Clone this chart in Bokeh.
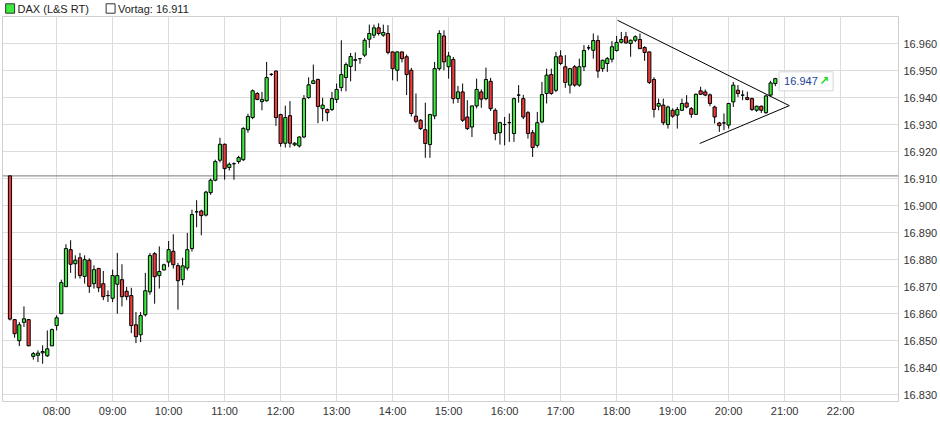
from bokeh.plotting import figure
from bokeh.layouts import column
from bokeh.models import ColumnDataSource, FixedTicker, Span
from bokeh.core.properties import value
from bokeh.embed import file_html
from bokeh.resources import INLINE

# ---------------- data (5-minute candles, index points) ----------------
series_name = "DAX (L&S RT)"
prev_label = "Vortag"
prev_close = 16911
first_bar = "07:10"
bar_minutes = 5

opens = [16911, 16857.8, 16850.0, 16856.8, 16857.8, 16844.2, 16844.6, 16845.5, 16844.4, 16848.1,
         16855.6, 16860.0, 16870.0, 16883.7, 16878.5, 16880.7, 16873.8, 16879.8, 16871.1, 16876.7,
         16871.1, 16866.7, 16865.7, 16870.9, 16872.6, 16868.3, 16866.7, 16855.9, 16852.2, 16859.6,
         16868.1, 16882.2, 16874.1, 16876.2, 16879.1, 16883.1, 16877.8, 16872.6, 16876.9, 16884.1,
         16897.7, 16898.0, 16896.5, 16904.8, 16909.4, 16916.8, 16922.7, 16914.1, 16915.5, 16916.3,
         16917.0, 16928.1, 16932.6, 16941.5, 16938.5, 16938.8, 16948.6, 16949.8, 16933.7, 16923.1,
         16933.3, 16922.5, 16922.1, 16925.4, 16940.0, 16945.2, 16946.7, 16935.9, 16935.6, 16935.6,
         16939.3, 16943.7, 16947.4, 16951.5, 16953.8, 16954.4, 16955.7, 16961.6, 16963.1, 16965.8,
         16963.1, 16963.7, 16956.9, 16950.1, 16956.9, 16955.1, 16950.1, 16933.1, 16931.6, 16928.1,
         16922.6, 16933.2, 16950.7, 16962.8, 16951.4, 16954.1, 16939.6, 16942.1, 16932.8, 16929.1,
         16936.9, 16942.1, 16939.6, 16946.0, 16935.3, 16927.0, 16930.0, 16930.7, 16926.7, 16940.9,
         16939.6, 16934.4, 16927.0, 16922.3, 16931.0, 16941.5, 16948.5, 16942.7, 16955.4, 16951.4,
         16944.6, 16951.4, 16944.6, 16951.4, 16958.4, 16957.5, 16961.1, 16950.7, 16952.6, 16954.2,
         16957.4, 16960.5, 16962.5, 16960.0, 16961.2, 16961.5, 16958.5, 16956.9, 16946.7, 16936.8,
         16937.2, 16930.0, 16935.3, 16933.5, 16935.3, 16938.0, 16935.9, 16933.8, 16942.5, 16942.1,
         16941.0, 16936.5, 16930.6, 16930.6, 16929.8, 16938.4, 16942.7, 16940.9, 16940.0, 16939.6,
         16935.3, 16936.8, 16934.4, 16940.9, 16945.2]
highs = [16911, 16858.0, 16856.9, 16862.7, 16858.0, 16845.8, 16846.4, 16848.3, 16853.8, 16854.5,
         16859.4, 16872.6, 16885.7, 16887.2, 16881.6, 16882.5, 16881.6, 16880.5, 16877.9, 16877.0,
         16875.8, 16868.6, 16876.3, 16882.5, 16878.3, 16869.9, 16869.6, 16860.6, 16860.6, 16875.1,
         16882.5, 16882.8, 16884.9, 16878.5, 16886.9, 16889.4, 16878.8, 16880.7, 16889.9, 16898.5,
         16902.0, 16898.5, 16905.5, 16910.0, 16917.0, 16925.1, 16923.0, 16916.0, 16916.0, 16918.5,
         16929.0, 16934.0, 16943.0, 16942.0, 16942.1, 16953.2, 16949.0, 16950.0, 16934.0, 16937.0,
         16938.7, 16923.5, 16925.6, 16940.9, 16947.5, 16952.2, 16947.0, 16939.9, 16935.9, 16942.1,
         16945.2, 16961.2, 16953.0, 16956.5, 16956.7, 16954.5, 16962.0, 16967.0, 16967.0, 16967.5,
         16967.0, 16966.8, 16957.0, 16957.0, 16957.0, 16955.9, 16951.0, 16941.5, 16932.0, 16938.1,
         16934.0, 16953.2, 16964.9, 16964.9, 16956.9, 16955.0, 16944.3, 16945.2, 16939.0, 16937.0,
         16947.0, 16943.0, 16951.1, 16947.3, 16936.0, 16931.0, 16932.8, 16934.1, 16940.0, 16944.6,
         16941.0, 16935.0, 16928.0, 16934.7, 16945.8, 16950.7, 16950.7, 16956.9, 16957.5, 16955.7,
         16951.0, 16952.0, 16954.4, 16959.4, 16959.4, 16963.7, 16963.0, 16954.0, 16955.0, 16960.9,
         16962.8, 16964.3, 16964.3, 16961.5, 16963.0, 16963.7, 16959.0, 16957.0, 16947.5, 16939.6,
         16939.6, 16937.0, 16936.0, 16936.5, 16939.6, 16940.9, 16936.5, 16941.5, 16944.0, 16943.0,
         16941.5, 16937.0, 16931.0, 16934.1, 16938.0, 16945.8, 16944.6, 16942.7, 16942.2, 16940.0,
         16937.0, 16937.0, 16941.0, 16946.2, 16947.3]
lows = [16857.5, 16851.1, 16848.0, 16855.1, 16848.0, 16843.0, 16842.1, 16841.5, 16844.0, 16848.0,
        16853.8, 16860.0, 16870.0, 16875.1, 16873.0, 16873.0, 16871.1, 16867.7, 16869.3, 16868.0,
        16865.0, 16864.3, 16864.3, 16860.0, 16862.7, 16865.0, 16852.8, 16849.1, 16849.5, 16859.0,
        16867.0, 16863.7, 16869.3, 16876.0, 16877.3, 16876.7, 16861.5, 16870.5, 16876.0, 16883.0,
        16892.0, 16889.0, 16896.0, 16904.0, 16909.0, 16916.0, 16909.6, 16913.0, 16909.6, 16915.5,
        16916.5, 16927.0, 16932.0, 16939.0, 16935.3, 16938.5, 16948.0, 16929.5, 16921.8, 16921.5,
        16921.5, 16922.0, 16921.5, 16925.0, 16939.5, 16945.0, 16930.5, 16931.2, 16931.2, 16935.0,
        16938.0, 16942.3, 16942.3, 16946.0, 16949.8, 16952.5, 16955.0, 16958.4, 16962.0, 16963.0,
        16962.5, 16956.0, 16946.4, 16946.0, 16953.0, 16940.9, 16933.0, 16930.5, 16928.0, 16917.7,
        16917.7, 16932.0, 16950.0, 16950.1, 16947.0, 16937.8, 16938.0, 16931.0, 16928.0, 16925.4,
        16936.0, 16936.2, 16939.0, 16935.0, 16924.2, 16922.6, 16922.3, 16923.6, 16923.6, 16938.1,
        16932.0, 16924.8, 16918.0, 16921.5, 16930.5, 16937.8, 16941.0, 16942.0, 16952.0, 16943.6,
        16941.5, 16944.0, 16944.0, 16949.8, 16957.5, 16954.4, 16947.3, 16949.5, 16949.5, 16953.0,
        16957.0, 16960.0, 16960.0, 16955.1, 16960.5, 16958.0, 16953.6, 16945.0, 16932.6, 16935.3,
        16929.8, 16928.5, 16932.5, 16928.5, 16935.0, 16936.0, 16932.5, 16933.5, 16941.0, 16940.5,
        16936.8, 16930.4, 16927.3, 16927.9, 16928.5, 16936.5, 16940.2, 16939.0, 16939.0, 16935.0,
        16934.7, 16934.3, 16934.0, 16940.2, 16944.2]
closes = [16858.0, 16852.6, 16855.9, 16858.1, 16848.1, 16845.2, 16845.4, 16846.0, 16847.0, 16854.1,
          16858.5, 16871.5, 16884.1, 16878.3, 16879.8, 16874.1, 16880.0, 16870.1, 16876.3, 16869.6,
          16866.3, 16866.7, 16874.1, 16874.1, 16866.3, 16866.3, 16855.6, 16851.5, 16859.3, 16868.5,
          16881.5, 16873.7, 16875.6, 16878.1, 16883.7, 16878.1, 16872.2, 16877.7, 16883.7, 16896.7,
          16897.7, 16896.3, 16905.0, 16909.4, 16916.3, 16922.7, 16913.7, 16915.3, 16915.5, 16917.8,
          16928.6, 16933.0, 16942.5, 16939.3, 16939.3, 16947.4, 16948.6, 16932.6, 16923.0, 16932.6,
          16923.1, 16923.1, 16925.4, 16939.6, 16944.7, 16946.2, 16936.7, 16937.2, 16934.4, 16939.6,
          16943.0, 16948.5, 16952.2, 16955.2, 16954.0, 16954.4, 16961.2, 16963.7, 16965.8, 16963.7,
          16964.1, 16956.7, 16950.7, 16956.9, 16954.4, 16948.5, 16934.1, 16931.2, 16928.5, 16923.0,
          16933.7, 16950.7, 16963.7, 16953.2, 16955.4, 16939.6, 16942.1, 16931.6, 16928.5, 16936.9,
          16943.0, 16939.4, 16946.7, 16935.9, 16926.7, 16930.7, 16930.0, 16930.7, 16939.6, 16940.9,
          16932.8, 16926.7, 16921.5, 16930.7, 16941.1, 16948.3, 16941.5, 16955.1, 16952.6, 16945.6,
          16950.7, 16944.6, 16951.4, 16957.4, 16958.4, 16961.1, 16949.8, 16953.8, 16954.4, 16958.8,
          16960.4, 16961.5, 16960.2, 16961.2, 16962.5, 16958.1, 16956.7, 16945.6, 16935.6, 16937.8,
          16930.7, 16936.5, 16933.1, 16935.6, 16937.8, 16936.5, 16933.8, 16941.2, 16941.2, 16940.9,
          16937.8, 16932.8, 16929.6, 16930.6, 16937.8, 16944.6, 16941.5, 16940.9, 16939.3, 16935.6,
          16936.8, 16935.3, 16940.6, 16945.4, 16947.0]

x_tick_labels = ["08:00", "09:00", "10:00", "11:00", "12:00", "13:00", "14:00", "15:00",
                 "16:00", "17:00", "18:00", "19:00", "20:00", "21:00", "22:00"]
y_tick_values = [16830, 16840, 16850, 16860, 16870, 16880, 16890, 16900,
                 16910, 16920, 16930, 16940, 16950, 16960]

trend_upper_time = ["18:01", "21:05"]
trend_upper_price = [16968.6, 16937.0]
trend_lower_time = ["19:29", "21:05"]
trend_lower_price = [16923.0, 16937.0]

# ---------------- styling ----------------
GREEN = "#3ceb3c"
RED = "#ef3b3b"
GRID = "#dcdcdc"
TXT = "#333333"
FONT = "Liberation Sans"
W = 940
HEADER_H = 15
MAIN_H = 420


def to_min(s):
    h, m = s.split(":")
    return int(h) * 60 + int(m)


start = to_min(first_bar)
times = [start + i * bar_minutes for i in range(len(opens))]
tops = [max(o, c) for o, c in zip(opens, closes)]
bottoms = [min(o, c) for o, c in zip(opens, closes)]
colors = [GREEN if c > o else (RED if c < o else "black") for o, c in zip(opens, closes)]

src = ColumnDataSource(dict(t=times, o=opens, h=highs, l=lows, c=closes,
                            top=tops, bottom=bottoms, color=colors))

# ---------------- header (legend row) ----------------
hdr = figure(width=W, height=HEADER_H, x_range=(0, W), y_range=(HEADER_H, 0),
             output_backend="svg", toolbar_location=None,
             min_border_left=0, min_border_right=0, min_border_top=0, min_border_bottom=0)
hdr.axis.visible = False
hdr.grid.visible = False
hdr.outline_line_color = None
hdr.background_fill_color = "white"
hdr.border_fill_color = "white"

legend_entries = [series_name, f"{prev_label}: {prev_close / 1000:.3f}"]
legend_fills = [GREEN, "white"]
legend_x = [3.3, 108.7]
hdr.rect(x=[lx + 4.7 for lx in legend_x], y=[8] * 2, width=9.4, height=9.4,
         fill_color=legend_fills, line_color="#333333", line_width=1)
hdr.text(x=[lx + 12.5 for lx in legend_x], y=[8.3] * 2, text=legend_entries,
         text_align="left", text_baseline="middle", text_font=value(FONT),
         text_font_size="11px", text_color="#222222")

# ---------------- main chart ----------------
p = figure(width=W, height=MAIN_H, x_range=(422, 1382), y_range=(16827.5, 16970),
           y_axis_location="right", output_backend="svg", toolbar_location=None,
           min_border_left=2, min_border_right=42, min_border_top=1, min_border_bottom=34)
p.background_fill_color = "white"
p.border_fill_color = "white"
p.outline_line_color = "#cfcfcf"
p.outline_line_width = 1

x_tick_values = [to_min(s) for s in x_tick_labels]
p.xaxis.ticker = FixedTicker(ticks=x_tick_values)
p.xaxis.major_label_overrides = {v: s for v, s in zip(x_tick_values, x_tick_labels)}
p.yaxis.ticker = FixedTicker(ticks=y_tick_values)
p.yaxis.major_label_overrides = {v: f"{v / 1000:.3f}" for v in y_tick_values}

for ax in (p.xaxis[0], p.yaxis[0]):
    ax.axis_line_color = None
    ax.major_tick_line_color = None
    ax.minor_tick_line_color = None
    ax.major_tick_out = 0
    ax.major_tick_in = 0
    ax.major_label_text_font = FONT
    ax.major_label_text_font_size = "11px"
    ax.major_label_text_color = TXT
p.xaxis.major_label_standoff = 3
p.yaxis.major_label_standoff = 5

p.xgrid.grid_line_color = GRID
p.ygrid.grid_line_color = GRID

# previous close line
p.add_layout(Span(location=prev_close, dimension="width", line_color="#777777",
                  line_width=1, level="underlay"))

# candles
p.segment(x0="t", y0="l", x1="t", y1="h", source=src, line_color="black", line_width=1)
p.vbar(x="t", width=3.4, top="top", bottom="bottom", source=src,
       fill_color="color", line_color="black", line_width=1)

# triangle trend lines
p.line([to_min(s) for s in trend_upper_time], trend_upper_price, line_color="black", line_width=1)
p.line([to_min(s) for s in trend_lower_time], trend_lower_price, line_color="black", line_width=1)

# last price box
last_t = times[-1]
last_c = closes[-1]
bx = last_t + 33
by = last_c - 1.0
p.rect(x=[bx], y=[by], width=54, height=19, width_units="screen", height_units="screen",
       fill_color="white", line_color="#d6d6d6", line_width=1)
p.text(x=[bx], y=[by], text=[f"{last_c / 1000:.3f}"], x_offset=-22,
       text_align="left", text_baseline="middle", text_font=value(FONT),
       text_font_size="11px", text_color="#1c3f94")
p.text(x=[bx], y=[by], text=["\u2197"], x_offset=13,
       text_align="left", text_baseline="middle", text_font=value("DejaVu Sans"),
       text_font_size="12px", text_font_style="bold", text_color="#1fd81f")

layout = column(hdr, p, spacing=0)
open("out.html", "w").write(file_html(layout, INLINE))
